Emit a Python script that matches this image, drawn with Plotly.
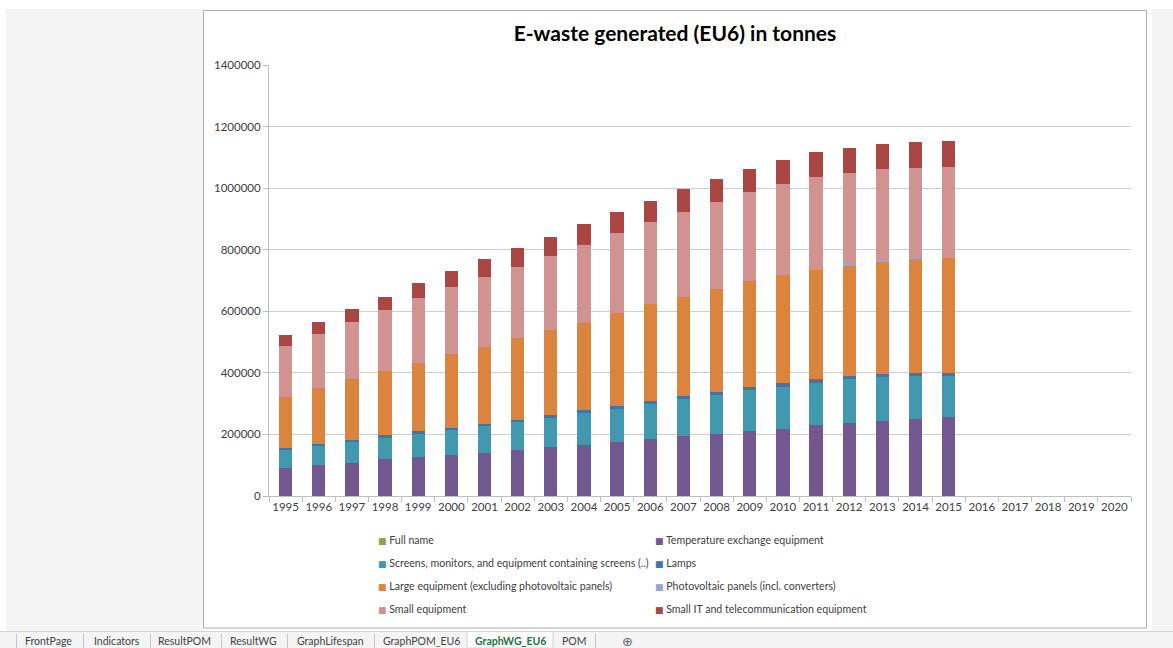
import plotly.graph_objects as go

W, H = 1173, 648
# plot area in pixels
PX0, PX1 = 269, 1131
PY_TOP, PY_BOT = 65, 496

years = [str(y) for y in range(1995, 2021)]

full_name = [None] * 26
temperature = [90000, 101000, 108000, 119000, 126000, 133000, 141000, 149000, 158000, 166000,
               176000, 184000, 195000, 201000, 211000, 218000, 230000, 238000, 245000, 250000,
               258000] + [None] * 5
screens = [59000, 62000, 68000, 70000, 76000, 81000, 87000, 90000, 94000, 103000,
           107000, 114000, 119000, 127000, 133000, 137000, 138000, 141000, 141000, 140000,
           133000] + [None] * 5
lamps = [8000, 7000, 7000, 8000, 8000, 8000, 7000, 8000, 11000, 10000,
         10000, 10000, 11000, 11000, 10000, 12000, 12000, 11000, 9000, 8000,
         7000] + [None] * 5
large = [166000, 182000, 196000, 209000, 222000, 238000, 250000, 267000, 276000, 284000,
         302000, 315000, 322000, 333000, 344000, 351000, 355000, 360000, 368000, 374000,
         376000] + [None] * 5
photovoltaic = [0, 0, 0, 0, 0, 0, 0, 0, 0, 0,
                0, 0, 0, 0, 0, 1000, 2000, 3000, 3000, 3000,
                3000] + [None] * 5
small = [164000, 174000, 187000, 198000, 210000, 218000, 227000, 231000, 241000, 253000,
         259000, 267000, 275000, 284000, 288000, 293000, 298000, 297000, 295000, 290000,
         293000] + [None] * 5
small_it = [36000, 39000, 40000, 43000, 49000, 53000, 57000, 62000, 62000, 67000,
            67000, 69000, 75000, 74000, 76000, 78000, 81000, 81000, 81000, 84000,
            82000] + [None] * 5

series = [
    ("Full name", full_name, "#89A54E", "legend"),
    ("Temperature exchange equipment", temperature, "#71588F", "legend2"),
    ("Screens, monitors, and equipment containing screens (..)", screens, "#4198AF", "legend"),
    ("Lamps", lamps, "#4572A7", "legend2"),
    ("Large equipment (excluding photovoltaic panels)", large, "#DB843D", "legend"),
    ("Photovoltaic panels (incl. converters)", photovoltaic, "#93A9CF", "legend2"),
    ("Small equipment", small, "#D19392", "legend"),
    ("Small IT and telecommunication equipment", small_it, "#AA4643", "legend2"),
]

tabs = ["FrontPage", "Indicators", "ResultPOM", "ResultWG", "GraphLifespan",
        "GraphPOM_EU6", "GraphWG_EU6", "POM"]

FONT = "Lato, 'Open Sans', sans-serif"
TXT = "#404040"

fig = go.Figure()
for name, vals, col, _lg in series:
    fig.add_trace(go.Bar(x=years, y=vals, name=name, marker=dict(color=col, line=dict(width=0)),
                         showlegend=False))

for i, (name, vals, col, lg) in enumerate(series):
    label = (f"<span style='font-family:DejaVu Sans;font-size:9px;color:{col}'>\u25A0</span> "
             f"{name}")
    fig.add_trace(go.Scatter(x=[None], y=[None], mode="markers", name=label,
                             marker=dict(size=1, opacity=0, color="rgba(0,0,0,0)"), legend=lg,
                             legendgroup=f"g{i}", hoverinfo="skip"))


def px(x):
    return (x - PX0) / (PX1 - PX0)


def py(y):
    return (PY_BOT - y) / (PY_BOT - PY_TOP)


shapes = []
# grey surroundings
shapes.append(dict(type="rect", xref="paper", yref="paper", x0=px(6), x1=px(203), y0=py(631), y1=py(9),
                   fillcolor="#F4F4F4", line=dict(width=0), layer="below"))
shapes.append(dict(type="rect", xref="paper", yref="paper", x0=px(1152), x1=px(1173), y0=py(631), y1=py(9),
                   fillcolor="#F4F4F4", line=dict(width=0), layer="below"))
# tab bar
shapes.append(dict(type="rect", xref="paper", yref="paper", x0=px(0), x1=px(1173), y0=py(648), y1=py(631),
                   fillcolor="#F4F4F4", line=dict(width=0), layer="below"))
shapes.append(dict(type="line", xref="paper", yref="paper", x0=px(0), x1=px(1173), y0=py(631.5), y1=py(631.5),
                   line=dict(color="#D4D4D4", width=1), layer="below"))
# active tab
shapes.append(dict(type="rect", xref="paper", yref="paper", x0=px(467), x1=px(553), y0=py(648), y1=py(631.5),
                   fillcolor="#FFFFFF", line=dict(color="#D4D4D4", width=1), layer="below"))
for sx in [16, 83, 150, 221, 287, 374, 595]:
    shapes.append(dict(type="line", xref="paper", yref="paper", x0=px(sx + 0.5), x1=px(sx + 0.5),
                       y0=py(634), y1=py(648), line=dict(color="#C8C8C8", width=1), layer="below"))
# chart border
shapes.append(dict(type="rect", xref="paper", yref="paper", x0=px(203.5), x1=px(1146.5), y0=py(628), y1=py(10.5),
                   fillcolor="rgba(0,0,0,0)", line=dict(color="#ADADAD", width=1), layer="below"))

annotations = []
tab_x = [49, 117, 184, 253, 330, 421, 510, 574]
for t, x in zip(tabs, tab_x):
    active = t == "GraphWG_EU6"
    annotations.append(dict(xref="paper", yref="paper", x=px(x), y=py(641), text=f"<b>{t}</b>" if active else t,
                            showarrow=False, xanchor="center", yanchor="middle",
                            font=dict(family=FONT, size=10.5,
                                      color="#217346" if active else "#444444")))
annotations.append(dict(xref="paper", yref="paper", x=px(627), y=py(641), text="\u2295", showarrow=False,
                        xanchor="center", yanchor="middle",
                        font=dict(family="DejaVu Sans", size=13, color="#666666")))

LEG_FONT = dict(family=FONT, size=10.6, color=TXT)

fig.update_layout(
    width=W, height=H,
    margin=dict(l=PX0, r=W - PX1, t=PY_TOP, b=H - PY_BOT, autoexpand=False),
    paper_bgcolor="white", plot_bgcolor="white",
    barmode="stack", bargap=0.6,
    title=dict(text="<b>E-waste generated (EU6) in tonnes</b>", x=675 / W, xanchor="center",
               xref="container", yref="container", y=1 - 34 / H, yanchor="middle",
               font=dict(family=FONT, size=21, color="#000000")),
    font=dict(family=FONT, size=11.5, color=TXT),
    xaxis=dict(type="category", categoryorder="array", categoryarray=years, range=[-0.5, 25.5],
               tickson="boundaries", ticks="outside", ticklen=5, tickcolor="#BFBFBF", tickangle=0,
               showline=True, linecolor="#BFBFBF", linewidth=1, showgrid=False,
               tickfont=dict(family=FONT, size=11.5, color=TXT)),
    yaxis=dict(range=[0, 1400000], dtick=200000, tickformat="d", ticks="outside", ticklen=5,
               tickcolor="#BFBFBF", showline=True, linecolor="#BFBFBF", linewidth=1,
               showgrid=True, gridcolor="#CFCFCF", gridwidth=1, zeroline=False,
               tickfont=dict(family=FONT, size=11.5, color=TXT)),
    legend=dict(xref="container", yref="container", x=338 / W, xanchor="left", y=1 - 525 / H,
                yanchor="top", orientation="v", bgcolor="rgba(0,0,0,0)", tracegroupgap=4,
                font=LEG_FONT, itemclick=False, itemdoubleclick=False),
    legend2=dict(xref="container", yref="container", x=615 / W, xanchor="left", y=1 - 525 / H,
                 yanchor="top", orientation="v", bgcolor="rgba(0,0,0,0)", tracegroupgap=4,
                 font=LEG_FONT, itemclick=False, itemdoubleclick=False),
    shapes=shapes,
    annotations=annotations,
    showlegend=True,
)

fig.write_html("out.html")
